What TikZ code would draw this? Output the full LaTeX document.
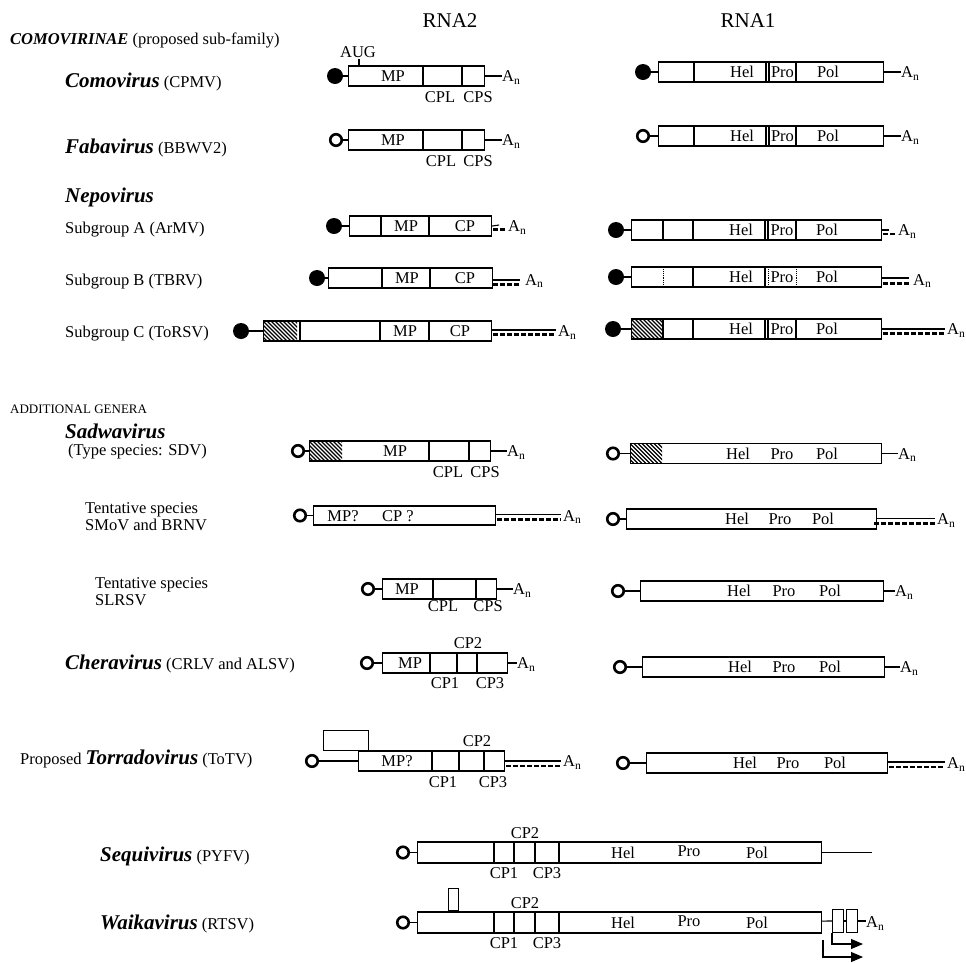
\documentclass[tikz,border=0pt]{standalone}
\usepackage{fontspec}
\setmainfont{Liberation Serif}
\usepackage{tikz}
\usetikzlibrary{arrows.meta}
\newcommand{\genus}[1]{{\fontsize{21}{24}\selectfont\bfseries\itshape #1}}
\newcommand{\hatchseg}[4]{%
  \begin{scope}
    \clip (#1,#2) rectangle (#3,#4);
    \foreach \hx in {0,4,...,64}
      \draw[hatch] (#1-24+\hx,#2) -- ++(24,24);
  \end{scope}}

\begin{document}
\begin{tikzpicture}[x=1pt, y=-1pt,
    % 1. text
    txt/.style={font=\fontsize{16.5}{18}\selectfont, inner sep=0pt},
    lab/.style={txt, anchor=base west},
    seglab/.style={txt, anchor=base},
    head/.style={font=\fontsize{21}{24}\selectfont, inner sep=0pt, anchor=base},
    polya/.style={txt, anchor=base west},
    % 2. genome boxes and caps
    gbox/.style={draw, line width=1.1pt, inner sep=0pt, minimum height=20pt, anchor=west},
    orfbox/.style={draw, line width=1.1pt, inner sep=0pt, anchor=south west},
    capfull/.style={circle, fill=black, minimum size=16pt, inner sep=0pt},
    capopen/.style={circle, draw, line width=2.6pt, minimum size=11.5pt, inner sep=0pt},
    % 3. lines
    link/.style={line width=1.1pt},
    div/.style={line width=1.1pt},
    divdot/.style={line width=0.9pt, densely dotted},
    taildash/.style={line width=2.2pt, dash pattern=on 4.5pt off 2.5pt},
    hatch/.style={line width=1.4pt},
    sgarrow/.style={line width=1.1pt, -{Triangle[length=12pt, width=10pt]}}
]
    \useasboundingbox (0,0) rectangle (966,962);

    % --- HEADINGS ---
    \node[head] (rna2) at (450,27) {RNA2};
    \node[head] (rna1) at (748,27) {RNA1};

    % --- LEFT COLUMN ---
    \node[lab] (subfam)  at (10,44)  {\textbf{\textit{COMOVIRINAE}} (proposed sub-family)};
    \node[lab] (como)    at (65,87)  {\genus{Comovirus} (CPMV)};
    \node[lab] (faba)    at (65,153) {\genus{Fabavirus} (BBWV2)};
    \node[lab] (nepo)    at (65,202) {\genus{Nepovirus}};
    \node[lab] (nepa)    at (65,233) {Subgroup A (ArMV)};
    \node[lab] (nepb)    at (65,285) {Subgroup B (TBRV)};
    \node[lab] (nepc)    at (65,337) {Subgroup C (ToRSV)};
    \node[lab, font=\fontsize{13}{15}\selectfont] (addgen) at (10,413) {ADDITIONAL GENERA};
    \node[lab] (sad)     at (65,438) {\genus{Sadwavirus}};
    \node[lab] (sadtype) at (68,455) {(Type species: SDV)};
    \node[lab] (smova)   at (85,513) {Tentative species};
    \node[lab] (smovb)   at (85,530) {SMoV and BRNV};
    \node[lab] (slra)    at (95,588) {Tentative species};
    \node[lab] (slrb)    at (95,605) {SLRSV};
    \node[lab] (chr)     at (65,669) {\genus{Cheravirus} (CRLV and ALSV)};
    \node[lab] (tor)     at (20,764) {Proposed \genus{Torradovirus} (ToTV)};
    \node[lab] (seq)     at (100,861) {\genus{Sequivirus} (PYFV)};
    \node[lab] (wai)     at (100,929) {\genus{Waikavirus} (RTSV)};

    % --- COMOVIRUS ---
    \node[gbox, minimum width=136pt] (como2) at (348,76) {};
    \node[capfull] (como2cap) at (335,76) {};
    \draw[link] (como2cap) -- (como2);
    \draw[div] (423,66) -- (423,86) (462,66) -- (462,86);
    \node[seglab] (como2mp)  at (393,81.5) {MP};
    \node[seglab] (como2aug) at (358,57) {AUG};
    \draw[link] (359,59) -- (359,66);
    \node[seglab] (como2cpl) at (440,102) {CPL};
    \node[seglab] (como2cps) at (478,102) {CPS};
    \node[polya] (como2an) at (502,81.5) {A\textsubscript{n}};
    \draw[link] (como2) -- (como2 -| como2an.west);

    \node[gbox, minimum width=225pt] (como1) at (658,72) {};
    \node[capfull] (como1cap) at (643,72) {};
    \draw[link] (como1cap) -- (como1);
    \draw[div] (694,62) -- (694,82) (766,62) -- (766,82) (769,62) -- (769,82) (796,62) -- (796,82);
    \node[seglab] (como1hel) at (742,77.5) {Hel};
    \node[seglab] (como1pro) at (782.5,77.5) {Pro};
    \node[seglab] (como1pol) at (828,77.5) {Pol};
    \node[polya] (como1an) at (901,77.5) {A\textsubscript{n}};
    \draw[link] (como1) -- (como1 -| como1an.west);

    % --- FABAVIRUS ---
    \node[gbox, minimum width=136pt] (faba2) at (348,140) {};
    \node[capopen] (faba2cap) at (336,140) {};
    \draw[link] (faba2cap) -- (faba2);
    \draw[div] (423,130) -- (423,150) (462,130) -- (462,150);
    \node[seglab] (faba2mp)  at (393,145.5) {MP};
    \node[seglab] (faba2cpl) at (441,166) {CPL};
    \node[seglab] (faba2cps) at (478,166) {CPS};
    \node[polya] (faba2an) at (502,145.5) {A\textsubscript{n}};
    \draw[link] (faba2) -- (faba2 -| faba2an.west);

    \node[gbox, minimum width=225pt] (faba1) at (658,136) {};
    \node[capopen] (faba1cap) at (643,136) {};
    \draw[link] (faba1cap) -- (faba1);
    \draw[div] (694,126) -- (694,146) (766,126) -- (766,146) (769,126) -- (769,146) (796,126) -- (796,146);
    \node[seglab] (faba1hel) at (742,141.5) {Hel};
    \node[seglab] (faba1pro) at (782.5,141.5) {Pro};
    \node[seglab] (faba1pol) at (828,141.5) {Pol};
    \node[polya] (faba1an) at (901,141.5) {A\textsubscript{n}};
    \draw[link] (faba1) -- (faba1 -| faba1an.west);

    % --- NEPOVIRUS SUBGROUP A ---
    \node[gbox, minimum width=142pt] (nepa2) at (349,226) {};
    \node[capfull] (nepa2cap) at (334,226) {};
    \draw[link] (nepa2cap) -- (nepa2);
    \draw[div] (381,216) -- (381,236) (429,216) -- (429,236);
    \node[seglab] (nepa2mp) at (406,231.5) {MP};
    \node[seglab] (nepa2cp) at (465,231.5) {CP};
    \node[polya] (nepa2an) at (508,231.5) {A\textsubscript{n}};
    \draw[link] (nepa2.east) -- ++(7,-1);
    \draw[taildash] (493,229.5) -- (506,229.5);

    \node[gbox, minimum width=250pt] (nepa1) at (631,230) {};
    \node[capfull] (nepa1cap) at (616,230) {};
    \draw[link] (nepa1cap) -- (nepa1);
    \draw[div] (663,220) -- (663,240) (693,220) -- (693,240) (765,220) -- (765,240) (768,220) -- (768,240) (796,220) -- (796,240);
    \node[seglab] (nepa1hel) at (741,235.5) {Hel};
    \node[seglab] (nepa1pro) at (782,235.5) {Pro};
    \node[seglab] (nepa1pol) at (827,235.5) {Pol};
    \node[polya] (nepa1an) at (898,235.5) {A\textsubscript{n}};
    \draw[link] (nepa1.east) -- ++(7,0);
    \draw[taildash] (883,234) -- (896,234);

    % --- NEPOVIRUS SUBGROUP B ---
    \node[gbox, minimum width=164pt] (nepb2) at (328,278) {};
    \node[capfull] (nepb2cap) at (317,278) {};
    \draw[link] (nepb2cap) -- (nepb2);
    \draw[div] (382,268) -- (382,288) (430,268) -- (430,288);
    \node[seglab] (nepb2mp) at (407,283.5) {MP};
    \node[seglab] (nepb2cp) at (465,283.5) {CP};
    \node[polya] (nepb2an) at (525,285) {A\textsubscript{n}};
    \draw[link] (492,280) -- (520,280);
    \draw[taildash] (493,284.5) -- (520,284.5);

    \node[gbox, minimum width=250pt] (nepb1) at (631,277) {};
    \node[capfull] (nepb1cap) at (616,277) {};
    \draw[link] (nepb1cap) -- (nepb1);
    \draw[div] (693,267) -- (693,287) (765,267) -- (765,287);
    \draw[divdot] (663,267) -- (663,287) (768,267) -- (768,287) (796,267) -- (796,287);
    \node[seglab] (nepb1hel) at (741,282.5) {Hel};
    \node[seglab] (nepb1pro) at (782,282.5) {Pro};
    \node[seglab] (nepb1pol) at (827,282.5) {Pol};
    \node[polya] (nepb1an) at (913,285) {A\textsubscript{n}};
    \draw[link] (881,278) -- (909,278);
    \draw[taildash] (883,283.5) -- (909,283.5);

    % --- NEPOVIRUS SUBGROUP C ---
    \node[gbox, minimum width=228pt] (nepc2) at (263,331) {};
    \node[capfull] (nepc2cap) at (241,331) {};
    \draw[link] (nepc2cap) -- (nepc2);
    \hatchseg{263}{321}{297}{341}
    \draw[div] (300,321) -- (300,341) (380,321) -- (380,341) (429,321) -- (429,341);
    \node[seglab] (nepc2mp) at (405,336.5) {MP};
    \node[seglab] (nepc2cp) at (460,336.5) {CP};
    \node[polya] (nepc2an) at (558,336.5) {A\textsubscript{n}};
    \draw[link] (491,330) -- (556,330);
    \draw[taildash] (493,334.5) -- (556,334.5);

    \node[gbox, minimum width=250pt] (nepc1) at (631,329) {};
    \node[capfull] (nepc1cap) at (613,329) {};
    \draw[link] (nepc1cap) -- (nepc1);
    \hatchseg{631}{319}{663}{339}
    \draw[div] (663,319) -- (663,339) (693,319) -- (693,339) (765,319) -- (765,339) (768,319) -- (768,339) (796,319) -- (796,339);
    \node[seglab] (nepc1hel) at (741,334.5) {Hel};
    \node[seglab] (nepc1pro) at (782,334.5) {Pro};
    \node[seglab] (nepc1pol) at (827,334.5) {Pol};
    \node[polya] (nepc1an) at (947,334.5) {A\textsubscript{n}};
    \draw[link] (881,329) -- (945,329);
    \draw[taildash] (883,333.5) -- (945,333.5);

    % --- SADWAVIRUS ---
    \node[gbox, minimum width=181pt] (sad2) at (309,451) {};
    \node[capopen] (sad2cap) at (298,451) {};
    \draw[link] (sad2cap) -- (sad2);
    \hatchseg{309}{441}{342}{461}
    \draw[div] (429,441) -- (429,461) (469,441) -- (469,461);
    \node[seglab] (sad2mp)  at (395,456.5) {MP};
    \node[seglab] (sad2cpl) at (448,477) {CPL};
    \node[seglab] (sad2cps) at (485,477) {CPS};
    \node[polya] (sad2an) at (507,456.5) {A\textsubscript{n}};
    \draw[link] (sad2) -- (sad2 -| sad2an.west);

    \node[gbox, minimum width=251pt] (sad1) at (630,453.5) {};
    \node[capopen] (sad1cap) at (613,453.5) {};
    \draw[link] (sad1cap) -- (sad1);
    \hatchseg{630}{443.5}{662}{463.5}
    \node[seglab] (sad1hel) at (738,459) {Hel};
    \node[seglab] (sad1pro) at (782,459) {Pro};
    \node[seglab] (sad1pol) at (827,459) {Pol};
    \node[polya] (sad1an) at (898,459) {A\textsubscript{n}};
    \draw[link] (sad1) -- (sad1 -| sad1an.west);

    % --- TENTATIVE: SMoV AND BRNV ---
    \node[gbox, minimum width=182pt, minimum height=19pt] (smov2) at (313,515.5) {};
    \node[capopen] (smov2cap) at (300,515.5) {};
    \draw[link] (smov2cap) -- (smov2);
    \node[seglab] (smov2mp) at (343,521) {MP?};
    \node[seglab] (smov2cp) at (398,521) {CP ?};
    \node[polya] (smov2an) at (563,521) {A\textsubscript{n}};
    \draw[link] (495,514.5) -- (561,514.5);
    \draw[taildash] (497,519.5) -- (561,519.5);

    \node[gbox, minimum width=250pt] (smov1) at (626,519) {};
    \node[capopen] (smov1cap) at (613,519) {};
    \draw[link] (smov1cap) -- (smov1);
    \node[seglab] (smov1hel) at (737,524.5) {Hel};
    \node[seglab] (smov1pro) at (780,524.5) {Pro};
    \node[seglab] (smov1pol) at (823,524.5) {Pol};
    \node[polya] (smov1an) at (937,524.5) {A\textsubscript{n}};
    \draw[link] (876,518.5) -- (935,518.5);
    \draw[taildash] (874,523.5) -- (935,523.5);

    % --- TENTATIVE: SLRSV ---
    \node[gbox, minimum width=114pt] (slr2) at (382,589) {};
    \node[capopen] (slr2cap) at (368,589) {};
    \draw[link] (slr2cap) -- (slr2);
    \draw[div] (433,579) -- (433,599) (476,579) -- (476,599);
    \node[seglab] (slr2mp)  at (407,594.5) {MP};
    \node[seglab] (slr2cpl) at (443,611) {CPL};
    \node[seglab] (slr2cps) at (488,611) {CPS};
    \node[polya] (slr2an) at (513,594.5) {A\textsubscript{n}};
    \draw[link] (slr2) -- (slr2 -| slr2an.west);

    \node[gbox, minimum width=243pt] (slr1) at (640,591) {};
    \node[capopen] (slr1cap) at (618,591) {};
    \draw[link] (slr1cap) -- (slr1);
    \node[seglab] (slr1hel) at (739,596.5) {Hel};
    \node[seglab] (slr1pro) at (784,596.5) {Pro};
    \node[seglab] (slr1pol) at (830,596.5) {Pol};
    \node[polya] (slr1an) at (895,596.5) {A\textsubscript{n}};
    \draw[link] (slr1) -- (slr1 -| slr1an.west);

    % --- CHERAVIRUS ---
    \node[gbox, minimum width=125pt] (chr2) at (382,663) {};
    \node[capopen] (chr2cap) at (367,663) {};
    \draw[link] (chr2cap) -- (chr2);
    \draw[div] (430,653) -- (430,673) (457,653) -- (457,673) (477,653) -- (477,673);
    \node[seglab] (chr2mp)  at (410,668.5) {MP};
    \node[seglab] (chr2cp2) at (468,648) {CP2};
    \node[seglab] (chr2cp1) at (445,688) {CP1};
    \node[seglab] (chr2cp3) at (490,688) {CP3};
    \node[polya] (chr2an) at (517,668.5) {A\textsubscript{n}};
    \draw[link] (chr2) -- (chr2 -| chr2an.west);

    \node[gbox, minimum width=242pt] (chr1) at (642,667) {};
    \node[capopen] (chr1cap) at (620,667) {};
    \draw[link] (chr1cap) -- (chr1);
    \node[seglab] (chr1hel) at (740,672.5) {Hel};
    \node[seglab] (chr1pro) at (784,672.5) {Pro};
    \node[seglab] (chr1pol) at (830,672.5) {Pol};
    \node[polya] (chr1an) at (900,672.5) {A\textsubscript{n}};
    \draw[link] (chr1) -- (chr1 -| chr1an.west);

    % --- TORRADOVIRUS ---
    \node[gbox, minimum width=146pt] (tor2) at (358,761) {};
    \node[orfbox, minimum width=45pt, minimum height=20pt] (tor2orf) at (323,751) {};
    \node[capopen] (tor2cap) at (312,761) {};
    \draw[link] (tor2cap) -- (tor2);
    \draw[div] (432,751) -- (432,771) (459,751) -- (459,771) (484,751) -- (484,771);
    \node[seglab] (tor2mp)  at (397,766.5) {MP?};
    \node[seglab] (tor2cp2) at (477,746) {CP2};
    \node[seglab] (tor2cp1) at (443,787) {CP1};
    \node[seglab] (tor2cp3) at (493,787) {CP3};
    \node[polya] (tor2an) at (563,766.5) {A\textsubscript{n}};
    \draw[link] (504,761) -- (561,761);
    \draw[taildash] (506,766) -- (561,766);

    \node[gbox, minimum width=241pt] (tor1) at (646,763) {};
    \node[capopen] (tor1cap) at (623,763) {};
    \draw[link] (tor1cap) -- (tor1);
    \node[seglab] (tor1hel) at (745,768.5) {Hel};
    \node[seglab] (tor1pro) at (788,768.5) {Pro};
    \node[seglab] (tor1pol) at (835,768.5) {Pol};
    \node[polya] (tor1an) at (947,768.5) {A\textsubscript{n}};
    \draw[link] (887,762) -- (945,762);
    \draw[taildash] (889,767) -- (945,767);

    % --- SEQUIVIRUS ---
    \node[gbox, minimum width=404pt, minimum height=21pt] (seqg) at (417,852.5) {};
    \node[capopen] (seqcap) at (403,852.5) {};
    \draw[link] (seqcap) -- (seqg);
    \draw[div] (494,842) -- (494,863) (514,842) -- (514,863) (535,842) -- (535,863) (559,842) -- (559,863);
    \node[seglab] (seqcp2) at (525,838) {CP2};
    \node[seglab] (seqcp1) at (504,878) {CP1};
    \node[seglab] (seqcp3) at (547,878) {CP3};
    \node[seglab] (seqhel) at (623,858) {Hel};
    \node[seglab] (seqpro) at (689,856) {Pro};
    \node[seglab] (seqpol) at (757,858) {Pol};
    \coordinate (seqend) at (872,852.5);
    \draw[link] (seqg) -- (seqend);

    % --- WAIKAVIRUS ---
    \node[gbox, minimum width=404pt, minimum height=21pt] (waig) at (417,922.5) {};
    \node[orfbox, minimum width=10pt, minimum height=22pt] (waiorf0) at (448,911) {};
    \node[capopen] (waicap) at (403,922.5) {};
    \draw[link] (waicap) -- (waig);
    \draw[div] (494,912) -- (494,933) (514,912) -- (514,933) (535,912) -- (535,933) (559,912) -- (559,933);
    \node[seglab] (waicp2) at (525,908) {CP2};
    \node[seglab] (waicp1) at (504,948) {CP1};
    \node[seglab] (waicp3) at (547,948) {CP3};
    \node[seglab] (waihel) at (623,928) {Hel};
    \node[seglab] (waipro) at (689,926) {Pro};
    \node[seglab] (waipol) at (757,928) {Pol};
    \node[orfbox, minimum width=11pt, minimum height=23pt] (waiorf1) at (832,933) {};
    \node[orfbox, minimum width=11pt, minimum height=23pt] (waiorf2) at (846,933) {};
    \node[polya] (waian) at (866,927.5) {A\textsubscript{n}};
    \draw[link] (waig) -- (waiorf1);
    \draw[link] (waiorf1) -- (waiorf2);
    \draw[link] (waiorf2) -- (waiorf2 -| waian.west);
    \coordinate (sg1end) at (863,944);
    \coordinate (sg2start) at (823,940);
    \coordinate (sg2end) at (863,957);
    \draw[sgarrow] (waiorf1.south west) |- (sg1end);
    \draw[sgarrow] (sg2start) |- (sg2end);

\end{tikzpicture}
\end{document}
